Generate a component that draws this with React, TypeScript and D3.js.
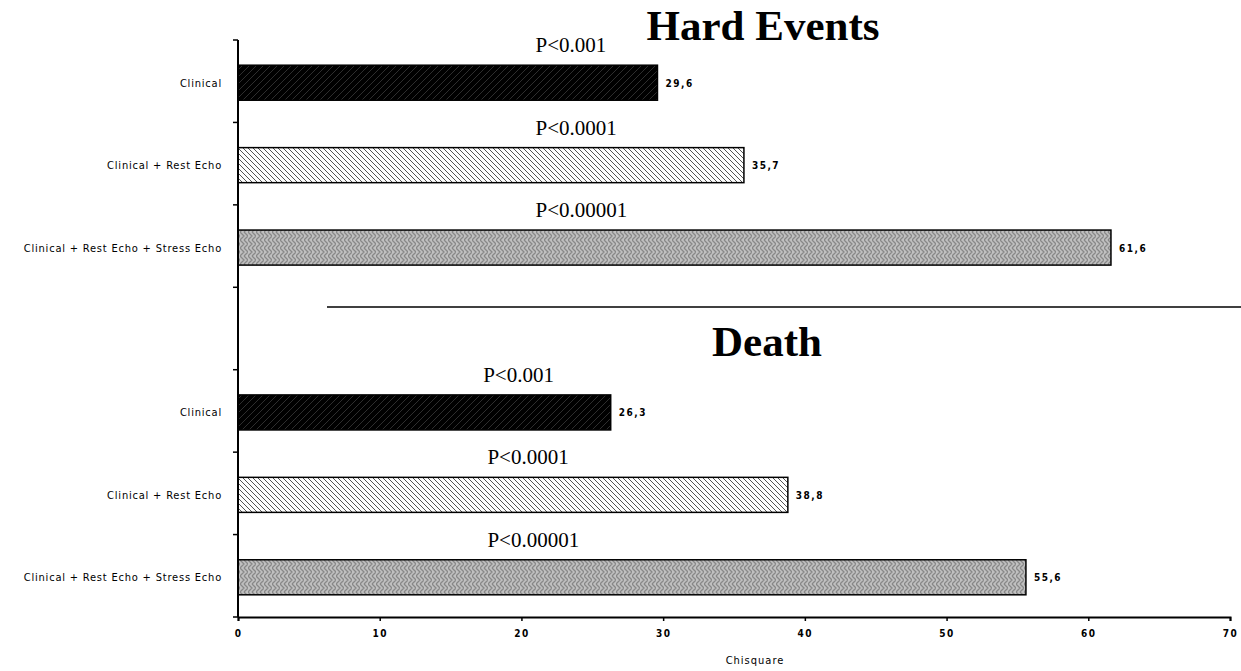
import { useEffect, useRef } from "react";
import * as d3 from "d3";

// chart values
const categories = ["Clinical", "Clinical + Rest Echo", "Clinical + Rest Echo + Stress Echo"];
const hardValues = [29.6, 35.7, 61.6];
const deathValues = [26.3, 38.8, 55.6];
const pLabels = ["P<0.001", "P<0.0001", "P<0.00001"];
const hardPX = [21, 21, 21];
const deathPX = [17.3, 17.6, 17.6];
const xTicks = [0, 10, 20, 30, 40, 50, 60, 70];
const panelTitles = ["Hard Events", "Death"];

const W = 1241;
const H = 671;

function App() {
  const ref = useRef<SVGSVGElement | null>(null);

  useEffect(() => {
    document.body.style.margin = "0";
    const svg = d3.select(ref.current);
    svg.selectAll("*").remove();

    const rows = [
      ...categories.map((c, i) => ({ key: "h" + i, label: c, value: hardValues[i], p: pLabels[i], px: hardPX[i], idx: i })),
      { key: "gap", label: "", value: null as number | null, p: "", px: 0, idx: -1 },
      ...categories.map((c, i) => ({ key: "d" + i, label: c, value: deathValues[i], p: pLabels[i], px: deathPX[i], idx: i })),
    ];

    const x = d3.scaleLinear().domain([0, 70]).range([238, 1230]);
    const y = d3.scaleBand().domain(rows.map(r => r.key)).range([40, 617]).paddingInner(0.575).paddingOuter(0.2875);

    const defs = svg.append("defs");
    // clinical: black with faint diagonal strokes
    const p0 = defs.append("pattern").attr("id", "pat0").attr("patternUnits", "userSpaceOnUse").attr("width", 7).attr("height", 7);
    p0.append("rect").attr("width", 7).attr("height", 7).attr("fill", "#000");
    p0.append("path").attr("d", "M0,7 L7,0").attr("stroke", "#3a3a3a").attr("stroke-width", 0.8);
    // rest echo: white with backslash hatch
    const p1 = defs.append("pattern").attr("id", "pat1").attr("patternUnits", "userSpaceOnUse").attr("width", 5).attr("height", 5);
    p1.append("rect").attr("width", 5).attr("height", 5).attr("fill", "#fff");
    p1.append("path").attr("d", "M-1,-1 L6,6 M-1,4 L1,6 M4,-1 L6,1").attr("stroke", "#555").attr("stroke-width", 1);
    // stress echo: gray zigzag weave
    const p2 = defs.append("pattern").attr("id", "pat2").attr("patternUnits", "userSpaceOnUse").attr("width", 8).attr("height", 8);
    p2.append("rect").attr("width", 8).attr("height", 8).attr("fill", "#c0c0c0");
    p2.append("path").attr("d", "M0,0 L4,4 L0,8 M4,0 L8,4 L4,8").attr("fill", "none").attr("stroke", "#888").attr("stroke-width", 1.3);

    // bars
    const data = rows.filter(r => r.value != null);
    const barTop = (k: string) => y(k)! + 1.5;
    svg.append("g").selectAll("rect").data(data).join("rect")
      .attr("x", x(0))
      .attr("y", d => barTop(d.key))
      .attr("width", d => x(d.value!) - x(0))
      .attr("height", y.bandwidth())
      .attr("fill", d => `url(#pat${d.idx})`)
      .attr("stroke", "#000")
      .attr("stroke-width", 1.5);

    // value labels
    svg.append("g").selectAll("text").data(data).join("text")
      .attr("x", d => x(d.value!) + 8)
      .attr("y", d => barTop(d.key) + y.bandwidth() / 2 + 4)
      .attr("font-family", "'DejaVu Sans Condensed', 'DejaVu Sans', sans-serif")
      .attr("font-size", 10)
      .attr("font-weight", "bold")
      .attr("letter-spacing", 1.5)
      .text(d => d.value!.toFixed(1).replace(".", ","));

    // P labels
    svg.append("g").selectAll("text").data(data).join("text")
      .attr("x", d => x(d.px))
      .attr("y", d => barTop(d.key) - 13)
      .attr("font-family", "'Liberation Serif', serif")
      .attr("font-size", 21)
      .text(d => d.p);

    // category labels
    svg.append("g").selectAll("text").data(data).join("text")
      .attr("x", 222)
      .attr("y", d => barTop(d.key) + y.bandwidth() / 2 + 4)
      .attr("text-anchor", "end")
      .attr("font-family", "'DejaVu Sans Condensed', 'DejaVu Sans', sans-serif")
      .attr("font-size", 11)
      .attr("letter-spacing", 0.8)
      .text(d => d.label);

    // y axis with ticks at band boundaries
    const step = y.step();
    const y0 = y.range()[0];
    svg.append("line").attr("x1", x(0)).attr("x2", x(0)).attr("y1", y0).attr("y2", 617).attr("stroke", "#000").attr("stroke-width", 2);
    svg.append("g").selectAll("line").data(d3.range(rows.length + 1)).join("line")
      .attr("x1", x(0) - 5).attr("x2", x(0))
      .attr("y1", i => y0 + i * step).attr("y2", i => y0 + i * step)
      .attr("stroke", "#000").attr("stroke-width", 1.5);

    // x axis
    const xa = svg.append("g").attr("transform", "translate(0,617)")
      .call(d3.axisBottom(x).tickValues(xTicks).tickSize(4).tickFormat(d3.format("d")));
    xa.select(".domain").attr("stroke-width", 2);
    xa.selectAll("line").attr("stroke-width", 1.5);
    xa.selectAll("text")
      .attr("dy", "1.3em")
      .attr("font-family", "'DejaVu Sans Condensed', 'DejaVu Sans', sans-serif")
      .attr("font-size", 10)
      .attr("font-weight", "bold")
      .attr("letter-spacing", 1.5);

    svg.append("text")
      .attr("x", 755).attr("y", 664)
      .attr("text-anchor", "middle")
      .attr("font-family", "'DejaVu Sans Condensed', 'DejaVu Sans', sans-serif")
      .attr("font-size", 11)
      .attr("letter-spacing", 1)
      .text("Chisquare");

    // panel titles and divider
    svg.append("text").attr("x", 763).attr("y", 40).attr("text-anchor", "middle")
      .attr("font-family", "'Liberation Serif', serif").attr("font-weight", "bold").attr("font-size", 43)
      .text(panelTitles[0]);
    svg.append("line").attr("x1", 327).attr("x2", W).attr("y1", 307).attr("y2", 307).attr("stroke", "#000").attr("stroke-width", 1.5);
    svg.append("text").attr("x", 767).attr("y", 356).attr("text-anchor", "middle")
      .attr("font-family", "'Liberation Serif', serif").attr("font-weight", "bold").attr("font-size", 43)
      .text(panelTitles[1]);
  }, []);

  return <svg ref={ref} width={W} height={H} style={{ display: "block", background: "#fff" }} />;
}

export default App;
